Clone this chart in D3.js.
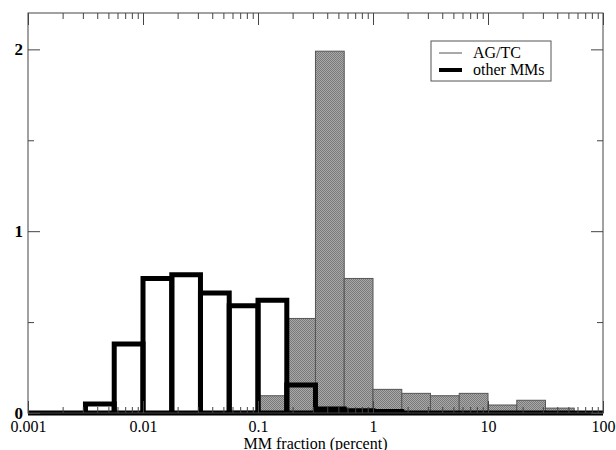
<!DOCTYPE html>
<html>
<head>
<meta charset="utf-8">
<script src="https://cdn.jsdelivr.net/npm/d3@7"></script>
<style>
  body { margin: 0; background: #fff; }
  text { font-family: "Liberation Serif", "DejaVu Serif", serif; fill: #000; }
</style>
</head>
<body>
<svg id="chart" width="616" height="450"></svg>
<script>
// bin edges (quarter decades), in percent
const binEdges = [0.001, 0.00178, 0.00316, 0.00562, 0.01, 0.0178, 0.0316, 0.0562,
  0.1, 0.178, 0.316, 0.562, 1, 1.78, 3.16, 5.62, 10, 17.8, 31.6, 56.2, 100];

// one value per bin
const agtcValues = [0, 0, 0, 0, 0.003, 0.008, 0.005, 0.01,
  0.095, 0.52, 1.99, 0.74, 0.13, 0.108, 0.095, 0.108, 0.044, 0.07, 0.027, 0.004];
const otherValues = [0, 0, 0.05, 0.38, 0.74, 0.76, 0.66, 0.59,
  0.62, 0.154, 0.022, 0.013, 0.008, 0, 0, 0, 0, 0, 0, 0];

const xMajor = [0.001, 0.01, 0.1, 1, 10, 100];
const xLabels = ['0.001', '0.01', '0.1', '1', '10', '100'];
const yMajor = [0, 1, 2];
const yMinor = [0.5, 1.5];
const seriesNames = ['AG/TC', 'other MMs'];

const plotL = 28, plotR = 603, plotT = 13, plotB = 413;

const svg = d3.select('#chart');

const x = d3.scaleLog().domain([0.001, 100]).range([plotL, plotR]);
const y = d3.scaleLinear().domain([0, 2.2]).range([plotB, plotT]);

// stipple fill for the grey bars
const pat = svg.append('defs').append('pattern')
    .attr('id', 'stip')
    .attr('width', 2).attr('height', 2)
    .attr('patternUnits', 'userSpaceOnUse');
pat.append('rect').attr('width', 2).attr('height', 2).attr('fill', '#a8a8a8');
pat.append('rect').attr('width', 1).attr('height', 1).attr('fill', '#7a7a7a');
pat.append('rect').attr('x', 1).attr('y', 1).attr('width', 1).attr('height', 1).attr('fill', '#7a7a7a');

const bins = otherValues.map((v, i) => ({ x0: binEdges[i], x1: binEdges[i + 1], other: v, agtc: agtcValues[i] }));

// white fill behind other MMs
svg.append('g').selectAll('rect')
    .data(bins)
    .enter().append('rect')
    .attr('x', d => x(d.x0))
    .attr('width', d => x(d.x1) - x(d.x0))
    .attr('y', d => y(d.other))
    .attr('height', d => plotB - y(d.other))
    .attr('fill', '#fff');

// AG/TC bars
svg.append('g').selectAll('rect')
    .data(bins.filter(d => d.agtc > 0))
    .enter().append('rect')
    .attr('x', d => x(d.x0))
    .attr('width', d => x(d.x1) - x(d.x0))
    .attr('y', d => y(d.agtc))
    .attr('height', d => plotB - y(d.agtc))
    .attr('fill', 'url(#stip)')
    .attr('stroke', '#555')
    .attr('stroke-width', 1);

// other MMs: baseline of the histogram plus one outline per bin
svg.append('line')
    .attr('x1', x(binEdges[0])).attr('x2', x(binEdges[binEdges.length - 1]))
    .attr('y1', y(0)).attr('y2', y(0))
    .attr('stroke', '#000')
    .attr('stroke-width', 5);

svg.append('g').selectAll('path')
    .data(bins.filter(d => d.other > 0))
    .enter().append('path')
    .attr('d', d => `M${x(d.x0)},${plotB}L${x(d.x0)},${y(d.other)}L${x(d.x1)},${y(d.other)}L${x(d.x1)},${plotB}`)
    .attr('fill', 'none')
    .attr('stroke', '#000')
    .attr('stroke-width', 5)
    .attr('stroke-linejoin', 'miter');

// minor ticks on the log axis
const xMinor = [];
xMajor.slice(0, -1).forEach(m => {
  for (let k = 2; k <= 9; k++) xMinor.push(+(m * k).toPrecision(3));
});

function styleAxis(g) {
  g.selectAll('.domain').remove();
  g.selectAll('line').attr('stroke', '#444');
}

svg.append('g')
    .attr('transform', `translate(0,${plotB})`)
    .call(d3.axisBottom(x).tickValues(xMinor).tickSize(-6).tickFormat(''))
    .call(styleAxis);
svg.append('g')
    .attr('transform', `translate(0,${plotT})`)
    .call(d3.axisTop(x).tickValues(xMinor).tickSize(-6).tickFormat(''))
    .call(styleAxis);

const xAxis = svg.append('g')
    .attr('transform', `translate(0,${plotB})`)
    .call(d3.axisBottom(x).tickValues(xMajor).tickSize(-12).tickPadding(8)
      .tickFormat((d, i) => xLabels[i]))
    .call(styleAxis);
xAxis.selectAll('text').style('font-size', '16px').style('font-family', '"Liberation Serif", serif');

svg.append('g')
    .attr('transform', `translate(0,${plotT})`)
    .call(d3.axisTop(x).tickValues(xMajor).tickSize(-12).tickFormat(''))
    .call(styleAxis);

const yAxis = svg.append('g')
    .attr('transform', `translate(${plotL},0)`)
    .call(d3.axisLeft(y).tickValues(yMajor).tickSize(-12).tickPadding(5).tickFormat(d3.format('d')))
    .call(styleAxis);
yAxis.selectAll('text').style('font-size', '17px').style('font-weight', 'bold')
    .style('font-family', '"Liberation Serif", serif');

svg.append('g')
    .attr('transform', `translate(${plotL},0)`)
    .call(d3.axisLeft(y).tickValues(yMinor).tickSize(-6).tickFormat(''))
    .call(styleAxis);
svg.append('g')
    .attr('transform', `translate(${plotR},0)`)
    .call(d3.axisRight(y).tickValues(yMajor).tickSize(-12).tickFormat(''))
    .call(styleAxis);
svg.append('g')
    .attr('transform', `translate(${plotR},0)`)
    .call(d3.axisRight(y).tickValues(yMinor).tickSize(-6).tickFormat(''))
    .call(styleAxis);

// frame
svg.append('rect')
    .attr('x', plotL).attr('y', plotT)
    .attr('width', plotR - plotL).attr('height', plotB - plotT)
    .attr('fill', 'none')
    .attr('stroke', '#444')
    .attr('stroke-width', 1);

// axis title
svg.append('text')
    .attr('x', (plotL + plotR) / 2)
    .attr('y', 449)
    .attr('text-anchor', 'middle')
    .style('font-size', '16px')
    .text('MM fraction (percent)');

// legend
const legend = svg.append('g');
legend.append('rect')
    .attr('x', 431).attr('y', 41)
    .attr('width', 120).attr('height', 40)
    .attr('fill', '#fff')
    .attr('stroke', '#555')
    .attr('stroke-width', 1);
legend.append('line')
    .attr('x1', 439).attr('x2', 462).attr('y1', 53).attr('y2', 53)
    .attr('stroke', '#555').attr('stroke-width', 1);
legend.append('line')
    .attr('x1', 439).attr('x2', 462).attr('y1', 70).attr('y2', 70)
    .attr('stroke', '#000').attr('stroke-width', 4);
legend.selectAll('text.lab')
    .data(seriesNames)
    .enter().append('text')
    .attr('class', 'lab')
    .attr('x', 473)
    .attr('y', (d, i) => 58 + i * 17)
    .style('font-size', '16px')
    .text(d => d);
</script>
</body>
</html>
